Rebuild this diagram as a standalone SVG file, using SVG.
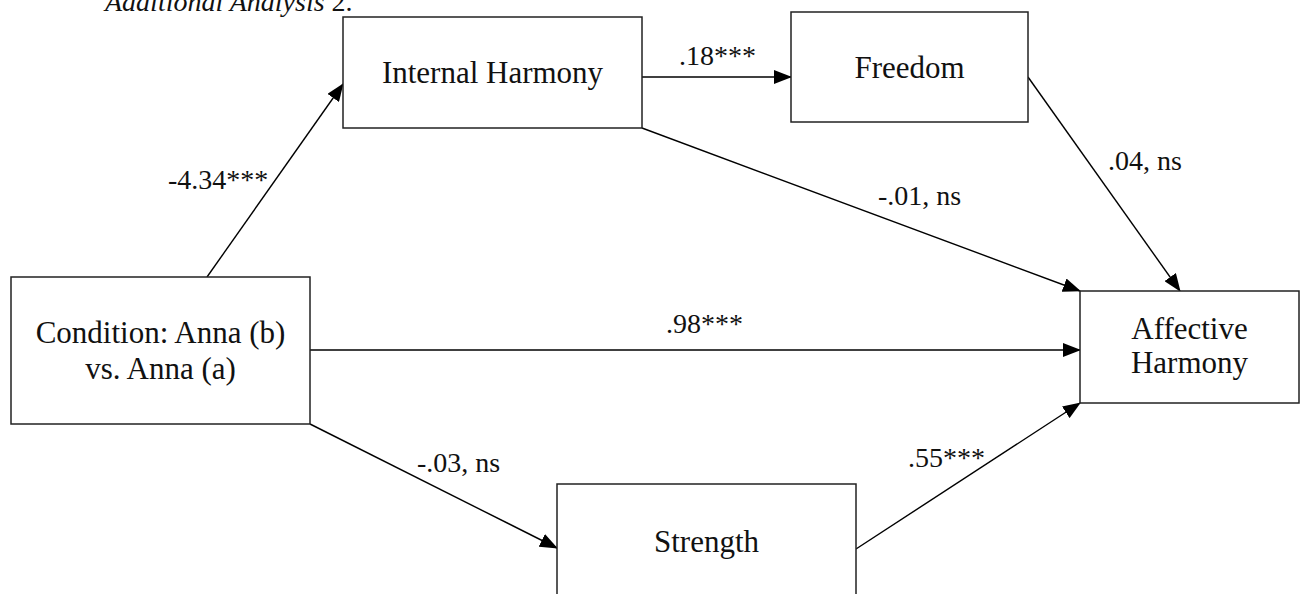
<svg xmlns="http://www.w3.org/2000/svg" width="1304" height="594" viewBox="0 0 1304 594">
<style>
.box{fill:#fff;stroke:#222;stroke-width:1.5}
.nt{font-family:'Liberation Serif',serif;font-size:31px;fill:#111;text-anchor:middle}
.lb{font-family:'Liberation Serif',serif;font-size:28px;fill:#111}
.cn{stroke:#000;stroke-width:1.4;fill:none;marker-end:url(#ah)}
</style>
<defs>
<marker id="ah" markerUnits="userSpaceOnUse" markerWidth="18" markerHeight="14" refX="17" refY="7" orient="auto">
<path d="M0,0 L18,7 L0,14 z" fill="#000"/>
</marker>
</defs>
<rect width="1304" height="594" fill="#fff"/>
<text x="105" y="11" font-family="'Liberation Serif',serif" font-size="28" fill="#111"><tspan font-style="italic">Additional Analysis</tspan> 2.</text>
<g id="connectors">
<line class="cn" x1="207" y1="277" x2="343" y2="84"/>
<line class="cn" x1="642" y1="77" x2="791" y2="77"/>
<line class="cn" x1="642" y1="128" x2="1080" y2="291"/>
<line class="cn" x1="1028" y1="77" x2="1180" y2="291"/>
<line class="cn" x1="310" y1="350" x2="1080" y2="350"/>
<line class="cn" x1="310" y1="424" x2="557" y2="548"/>
<line class="cn" x1="856" y1="549" x2="1080" y2="403"/>
<text class="lb" x="168" y="189">-4.34***</text>
<text class="lb" x="679" y="65">.18***</text>
<text class="lb" x="878" y="205">-.01, ns</text>
<text class="lb" x="1108" y="170">.04, ns</text>
<text class="lb" x="666" y="333">.98***</text>
<text class="lb" x="417" y="472">-.03, ns</text>
<text class="lb" x="908" y="467">.55***</text>
</g>
<g id="internal-harmony">
<rect class="box" x="343" y="17" width="299" height="111"/>
<text class="nt" x="492.5" y="83">Internal Harmony</text>
</g>
<g id="freedom">
<rect class="box" x="791" y="12" width="237" height="110"/>
<text class="nt" x="909.5" y="78">Freedom</text>
</g>
<g id="condition">
<rect class="box" x="11" y="277" width="299" height="147"/>
<text class="nt" x="160.5" y="343">Condition: Anna (b)</text>
<text class="nt" x="160.5" y="379">vs. Anna (a)</text>
</g>
<g id="affective-harmony">
<rect class="box" x="1080" y="291" width="219" height="112"/>
<text class="nt" x="1189.5" y="339">Affective</text>
<text class="nt" x="1189.5" y="373">Harmony</text>
</g>
<g id="strength">
<rect class="box" x="557" y="484" width="299" height="130"/>
<text class="nt" x="706.5" y="552">Strength</text>
</g>
</svg>
